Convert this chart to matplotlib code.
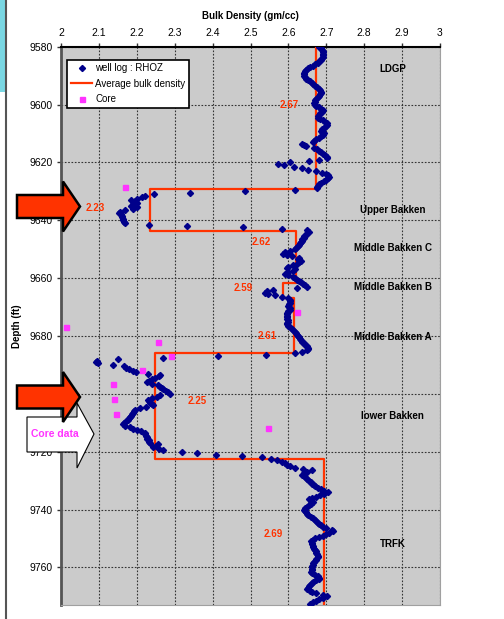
import numpy as np
import matplotlib
matplotlib.use("Agg")
import matplotlib.pyplot as plt
from matplotlib.patches import Polygon, Rectangle

# --- dane: log gestosci RHOZ (probkowanie co 0.5 ft od 9580 ft) ---
rhoz = [
    2.681, 2.685, 2.689, 2.691, 2.692, 2.692, 2.692, 2.691, 2.689, 2.686,
    2.682, 2.677, 2.671, 2.664, 2.658, 2.652, 2.647, 2.644, 2.642, 2.641,
    2.642, 2.644, 2.647, 2.651, 2.656, 2.661, 2.666, 2.671, 2.676, 2.680,
    2.683, 2.685, 2.685, 2.683, 2.680, 2.677, 2.674, 2.671, 2.669, 2.668,
    2.670, 2.674, 2.680, 2.686, 2.690, 2.688, 2.684, 2.680, 2.677, 2.678,
    2.683, 2.690, 2.697, 2.702, 2.702, 2.698, 2.693, 2.689, 2.686, 2.688,
    2.693, 2.692, 2.686, 2.680, 2.672, 2.668, 2.665, 2.637, 2.640, 2.646,
    2.668, 2.676, 2.682, 2.687, 2.692, 2.697, 2.701, 2.703, 2.680, 2.655,
    2.605, 2.573, 2.588, 2.614, 2.636, 2.652, 2.672, 2.688, 2.698, 2.704,
    2.707, 2.705, 2.700, 2.693, 2.686, 2.681, 2.678, 2.675, 2.675, 2.617,
    2.486, 2.340, 2.245, 2.222, 2.215, 2.200, 2.184, 2.195, 2.200, 2.191,
    2.186, 2.200, 2.190, 2.170, 2.156, 2.152, 2.158, 2.160, 2.162, 2.163,
    2.164, 2.166, 2.169, 2.233, 2.332, 2.479, 2.582, 2.648, 2.655, 2.650,
    2.646, 2.642, 2.640, 2.637, 2.635, 2.633, 2.631, 2.628, 2.626, 2.620,
    2.617, 2.605, 2.590, 2.587, 2.595, 2.609, 2.628, 2.626, 2.632, 2.628,
    2.622, 2.613, 2.598, 2.595, 2.617, 2.612, 2.598, 2.591, 2.600, 2.611,
    2.617, 2.622, 2.628, 2.633, 2.639, 2.644, 2.648, 2.622, 2.560, 2.543,
    2.538, 2.547, 2.565, 2.582, 2.600, 2.603, 2.605, 2.604, 2.602, 2.600,
    2.601, 2.604, 2.603, 2.600, 2.597, 2.595, 2.595, 2.596, 2.597, 2.599,
    2.599, 2.597, 2.597, 2.600, 2.605, 2.609, 2.613, 2.617, 2.620, 2.624,
    2.626, 2.628, 2.631, 2.633, 2.635, 2.640, 2.645, 2.649, 2.652, 2.653,
    2.648, 2.635, 2.617, 2.541, 2.413, 2.270, 2.151, 2.096, 2.092, 2.098,
    2.138, 2.166, 2.172, 2.180, 2.189, 2.198, 2.230, 2.261, 2.258, 2.248,
    2.240, 2.232, 2.226, 2.240, 2.255, 2.262, 2.266, 2.270, 2.276, 2.282,
    2.288, 2.262, 2.252, 2.240, 2.230, 2.232, 2.235, 2.240, 2.244, 2.225,
    2.208, 2.195, 2.192, 2.190, 2.188, 2.185, 2.182, 2.180, 2.178, 2.172,
    2.166, 2.164, 2.170, 2.182, 2.191, 2.200, 2.212, 2.222, 2.222, 2.224,
    2.226, 2.228, 2.231, 2.233, 2.235, 2.257, 2.250, 2.244, 2.258, 2.270,
    2.318, 2.360, 2.410, 2.477, 2.530, 2.553, 2.569, 2.582, 2.590, 2.595,
    2.605, 2.617, 2.639, 2.661, 2.650, 2.640, 2.635, 2.641, 2.646, 2.650,
    2.655, 2.659, 2.663, 2.667, 2.670, 2.677, 2.685, 2.694, 2.705, 2.694,
    2.683, 2.672, 2.661, 2.655, 2.660, 2.666, 2.660, 2.654, 2.649, 2.645,
    2.642, 2.644, 2.647, 2.650, 2.653, 2.659, 2.664, 2.670, 2.674, 2.677,
    2.681, 2.685, 2.690, 2.700, 2.715, 2.718, 2.708, 2.700, 2.692, 2.680,
    2.670, 2.664, 2.660, 2.661, 2.663, 2.665, 2.666, 2.667, 2.669, 2.672,
    2.674, 2.676, 2.678, 2.677, 2.674, 2.672, 2.668, 2.666, 2.664, 2.663,
    2.662, 2.661, 2.661, 2.660, 2.662, 2.670, 2.677, 2.682, 2.680, 2.672,
    2.665, 2.661, 2.658, 2.655, 2.652, 2.650, 2.656, 2.663, 2.672, 2.690,
    2.703, 2.690, 2.681, 2.672, 2.664, 2.656,
]
depth = 9580 + 0.5 * np.arange(len(rhoz))

# srednie gestosci w strefach
zone_top = [9580, 9629.3, 9643.6, 9661.7, 9666.8, 9685.9, 9722.6]
zone_base = [9629.3, 9643.6, 9661.7, 9666.8, 9685.9, 9722.6, 9774]
zone_avg = [2.673, 2.235, 2.620, 2.587, 2.615, 2.248, 2.694]
avg_labels = ["2.67", "2.23", "2.62", "2.59", "2.61", "2.25", "2.69"]

# rdzen
core_rho = [2.169, 2.012, 2.256, 2.289, 2.624, 2.214, 2.138, 2.141, 2.144, 2.546]
core_depth = [9628.5, 9676.8, 9682.0, 9687.0, 9671.8, 9691.9, 9696.5, 9701.8, 9706.8, 9711.7]

formations = ["LDGP", "Upper Bakken", "Middle Bakken C", "Middle Bakken B",
              "Middle Bakken A", "lower Bakken", "TRFK"]

plt.rcParams['font.family'] = ['Liberation Sans', 'DejaVu Sans']

fig = plt.figure(figsize=(5.04, 6.19), dpi=100)
fig.patch.set_facecolor("white")
ax = fig.add_axes([61 / 504, 1 - 605 / 619, 379 / 504, 558.3 / 619])
ax.set_facecolor("#CBCBCB")

# linia schodkowa sredniej gestosci
step_x, step_y = [], []
for top, base, v in zip(zone_top, zone_base, zone_avg):
    step_x += [v, v]
    step_y += [top, base]

ax.plot(rhoz, depth, ls="none", marker="D", ms=3.1, mfc="#00008B", mec="#00008B",
        label="well log : RHOZ", zorder=4)
ax.plot(step_x, step_y, color="#FF3300", lw=1.6, label="Average bulk density", zorder=3)
ax.plot(core_rho, core_depth, ls="none", marker="s", ms=3.6, mfc="#FF33FF", mec="#FF33FF",
        label="Core", zorder=5)

ax.set_xlim(2, 3)
ax.set_ylim(9773, 9580)
ax.set_xticks(np.arange(2, 3.01, 0.1))
ax.set_xticklabels(["2", "2.1", "2.2", "2.3", "2.4", "2.5", "2.6", "2.7", "2.8", "2.9", "3"])
ax.set_yticks(np.arange(9580, 9761, 20))
ax.xaxis.tick_top()
ax.xaxis.set_label_position("top")
ax.tick_params(axis="both", labelsize=7.5, length=3, width=1, pad=3, color="#333333")
ax.set_xlabel("Bulk Density (gm/cc)", fontsize=7, fontweight="bold", labelpad=7)
ax.set_ylabel("Depth (ft)", fontsize=7, fontweight="bold", labelpad=5)
ax.grid(True, color="#333333", linestyle=(0, (1.5, 1.5)), lw=0.8)
ax.set_axisbelow(True)

ax.spines["top"].set_color("black")
ax.spines["top"].set_linewidth(1.5)
ax.spines["left"].set_color("#555555")
ax.spines["left"].set_linewidth(2)
ax.spines["right"].set_color("#A0A0A0")
ax.spines["bottom"].set_color("#A0A0A0")

# etykiety srednich
avg_pos = [(2.603, 9600.2), (2.09, 9635.7), (2.528, 9647.6), (2.482, 9663.5),
           (2.543, 9679.9), (2.36, 9702.4), (2.559, 9748.3)]
for lab, (x, y) in zip(avg_labels, avg_pos):
    ax.text(x, y, lab, color="#FF3300", fontsize=7, fontweight="bold", ha="center", va="center")

# nazwy formacji
form_y = [9587.6, 9636.3, 9649.6, 9662.9, 9680.5, 9707.6, 9751.8]
for name, y in zip(formations, form_y):
    ax.text(2.875, y, name, fontsize=7, fontweight="bold", ha="center", va="center")

leg = ax.legend(loc="upper left", bbox_to_anchor=(0.016, 0.977), borderaxespad=0,
                fontsize=7, fancybox=False, edgecolor="black", framealpha=1,
                handlelength=2.2, handletextpad=0.3, labelspacing=0.55, borderpad=0.4)
leg.get_frame().set_linewidth(1.2)

# warstwa z dekoracjami (strzalki) w pikselach
ov = fig.add_axes([0, 0, 1, 1])
ov.set_xlim(0, 504)
ov.set_ylim(619, 0)
ov.axis("off")
ov.patch.set_alpha(0)

ov.add_patch(Rectangle((0, 0), 5, 92, color="#7AD7E3", lw=0))
ov.plot([5.5, 5.5], [0, 619], color="#555555", lw=1.5)

core_arrow = [(27, 417), (77, 417), (77, 403), (94, 434), (77, 468), (77, 452), (27, 452)]
ov.add_patch(Polygon(core_arrow, closed=True, fc="white", ec="black", lw=0.8))
ov.text(55, 434, "Core data", color="#FF33FF", fontsize=7.5, fontweight="bold",
        ha="center", va="center")

for yc in [206.5, 397]:
    arrow = [(17, yc - 11.5), (63, yc - 11.5), (63, yc - 25), (80, yc), (63, yc + 25),
             (63, yc + 11.5), (17, yc + 11.5)]
    ov.add_patch(Polygon(arrow, closed=True, fc="#FF3300", ec="black", lw=1.8))

fig.savefig("out.png", dpi=100)
